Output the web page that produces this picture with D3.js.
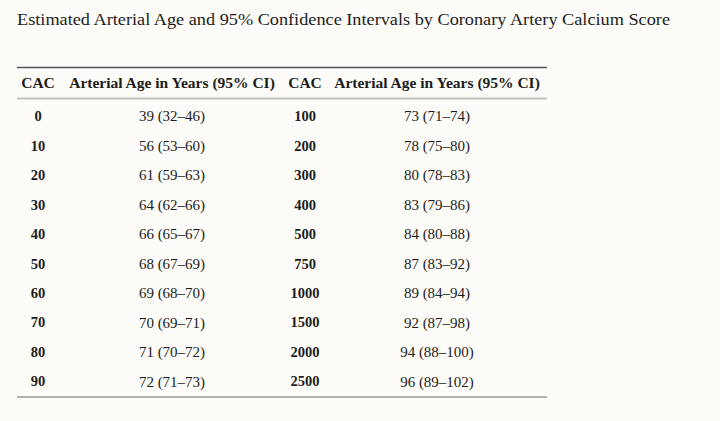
<!DOCTYPE html>
<html>
<head>
<meta charset="utf-8">
<script src="https://cdn.jsdelivr.net/npm/d3@7"></script>
<style>
  html, body { margin: 0; padding: 0; background: #fdfcf8; }
  svg { display: block; }
  text { font-family: "Liberation Serif", "Times New Roman", serif; fill: #1c1c1c; }
</style>
</head>
<body>
<svg id="table"></svg>
<script>
const TITLE = "Estimated Arterial Age and 95% Confidence Intervals by Coronary Artery Calcium Score";
const HEADERS = ["CAC", "Arterial Age in Years (95% CI)", "CAC", "Arterial Age in Years (95% CI)"];

// left half of the table
const cacLeft = [0, 10, 20, 30, 40, 50, 60, 70, 80, 90];
const ageLeft = [39, 56, 61, 64, 66, 68, 69, 70, 71, 72];
const lowLeft = [32, 53, 59, 62, 65, 67, 68, 69, 70, 71];
const highLeft = [46, 60, 63, 66, 67, 69, 70, 71, 72, 73];

// right half of the table
const cacRight = [100, 200, 300, 400, 500, 750, 1000, 1500, 2000, 2500];
const ageRight = [73, 78, 80, 83, 84, 87, 89, 92, 94, 96];
const lowRight = [71, 75, 78, 79, 80, 83, 84, 87, 88, 89];
const highRight = [74, 80, 83, 86, 88, 92, 94, 98, 100, 102];

const WIDTH = 720;
const HEIGHT = 421;

const MARGIN = { left: 17, right: 173 };
const TABLE_TOP = 67.5;
const HEAD_BOTTOM = 98.5;
const TABLE_BOTTOM = 397;

const svg = d3.select("#table")
  .attr("width", WIDTH)
  .attr("height", HEIGHT);

svg.append("text")
  .attr("x", MARGIN.left)
  .attr("y", 25)
  .attr("font-size", 16.5)
  .attr("textLength", 653)
  .attr("lengthAdjust", "spacingAndGlyphs")
  .text(TITLE);

const fmt = (a, l, h) => `${a} (${l}\u2013${h})`;
const rows = cacLeft.map((c, i) => [
  c,
  fmt(ageLeft[i], lowLeft[i], highLeft[i]),
  cacRight[i],
  fmt(ageRight[i], lowRight[i], highRight[i])
]);

// column centres
const colX = d3.scaleOrdinal()
  .domain([0, 1, 2, 3])
  .range([38, 172, 305, 437]);

const rowY = d3.scaleBand()
  .domain(d3.range(rows.length))
  .range([HEAD_BOTTOM + 3, TABLE_BOTTOM - 1]);

// rules
svg.append("line")
  .attr("x1", MARGIN.left).attr("x2", WIDTH - MARGIN.right)
  .attr("y1", TABLE_TOP).attr("y2", TABLE_TOP)
  .attr("stroke", "#555").attr("stroke-width", 1.5);

svg.append("line")
  .attr("x1", MARGIN.left).attr("x2", WIDTH - MARGIN.right)
  .attr("y1", HEAD_BOTTOM).attr("y2", HEAD_BOTTOM)
  .attr("stroke", "#c4c2bc").attr("stroke-width", 2);

svg.append("line")
  .attr("x1", MARGIN.left).attr("x2", WIDTH - MARGIN.right)
  .attr("y1", TABLE_BOTTOM).attr("y2", TABLE_BOTTOM)
  .attr("stroke", "#b4b2ac").attr("stroke-width", 2);

// header
svg.append("g")
  .selectAll("text")
  .data(HEADERS)
  .enter()
  .append("text")
  .attr("x", (d, i) => colX(i))
  .attr("y", (TABLE_TOP + HEAD_BOTTOM) / 2)
  .attr("dy", "0.35em")
  .attr("text-anchor", "middle")
  .attr("font-size", 15.5)
  .attr("font-weight", "bold")
  .text(d => d);

// body
const row = svg.append("g")
  .selectAll("g")
  .data(rows)
  .enter()
  .append("g")
  .attr("transform", (d, i) => `translate(0, ${rowY(i) + rowY.bandwidth() / 2})`);

row.selectAll("text")
  .data(d => d)
  .enter()
  .append("text")
  .attr("x", (d, i) => colX(i))
  .attr("dy", "0.35em")
  .attr("text-anchor", "middle")
  .attr("font-size", (d, i) => i % 2 === 0 ? 14.5 : 15)
  .attr("font-weight", (d, i) => i % 2 === 0 ? "bold" : "normal")
  .text(d => d);
</script>
</body>
</html>
